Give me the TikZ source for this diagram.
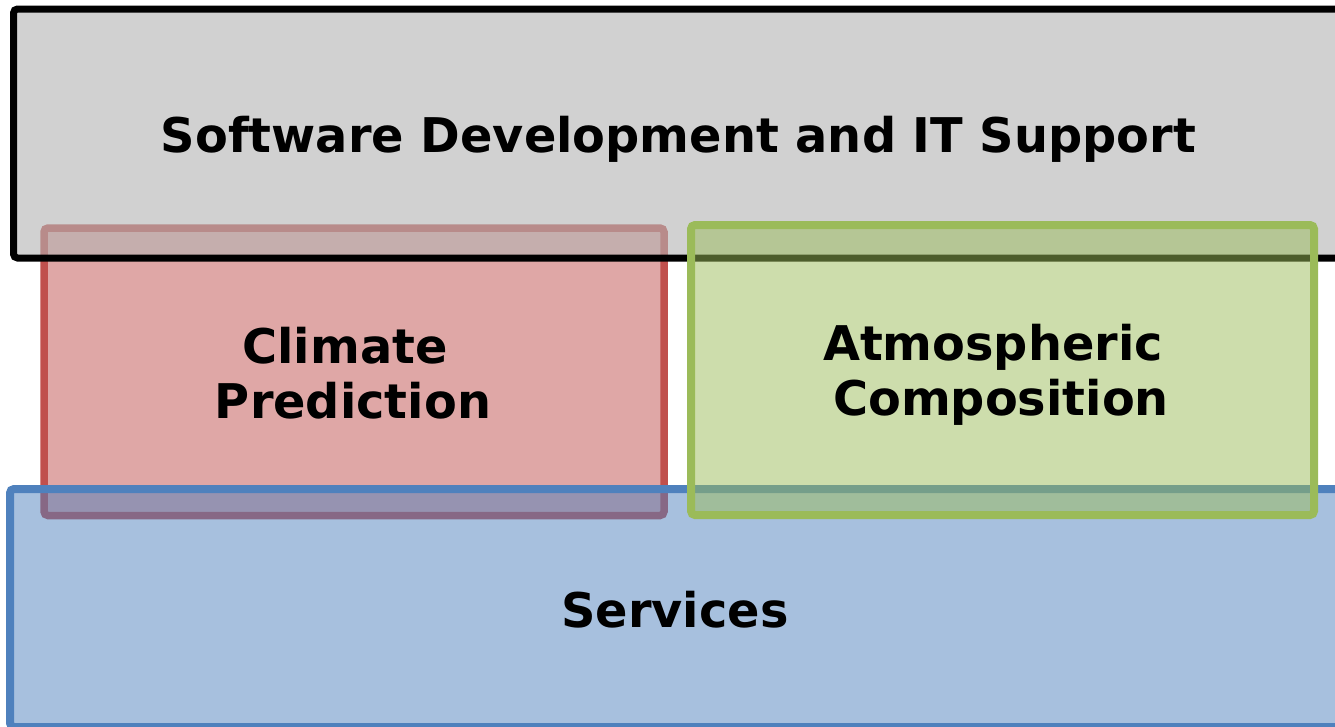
\documentclass[tikz,border=0pt]{standalone}
\usepackage{fontspec}
\setmainfont{DejaVu Sans}
\definecolor{cred}{HTML}{C0504D}
\definecolor{cgreen}{HTML}{9BBB59}
\definecolor{cblue}{HTML}{4F81BD}
\definecolor{cgray}{HTML}{B3B3B3}
\tikzset{
  layerbox/.style={rounded corners=4pt},
  lbl/.style={font=\fontsize{47.8}{55}\selectfont\bfseries, text=black, align=center, inner sep=0pt}
}
\begin{document}
\begin{tikzpicture}[x=1pt,y=-1pt]
\useasboundingbox (0,0) rectangle (1335,726);
\clip (0,0) rectangle (1335,726);
% red
\draw[layerbox, draw=cred, line width=7.5pt, fill=cred, fill opacity=0.5] (44,228) rectangle (664,515.5);
% gray
\draw[layerbox, draw=black, line width=7pt, fill=cgray, fill opacity=0.6] (13.5,9) rectangle (1360,258);
% blue
\draw[layerbox, draw=cblue, line width=8pt, fill=cblue, fill opacity=0.5] (10,489) rectangle (1360,727);
% green
\draw[layerbox, draw=cgreen, line width=8pt, fill=cgreen, fill opacity=0.5] (691,225) rectangle (1314,515);
% labels
\node[lbl] (sw) at (678.5,139) {Software Development and IT Support};
\node[lbl] (cp) at (353,373) {Climate\kern16pt\\Prediction};
\node[lbl] (ac) at (1001,375) {Atmospheric\kern16pt\\Composition};
\node[lbl] (sv) at (675,610) {Services};
\end{tikzpicture}
\end{document}
